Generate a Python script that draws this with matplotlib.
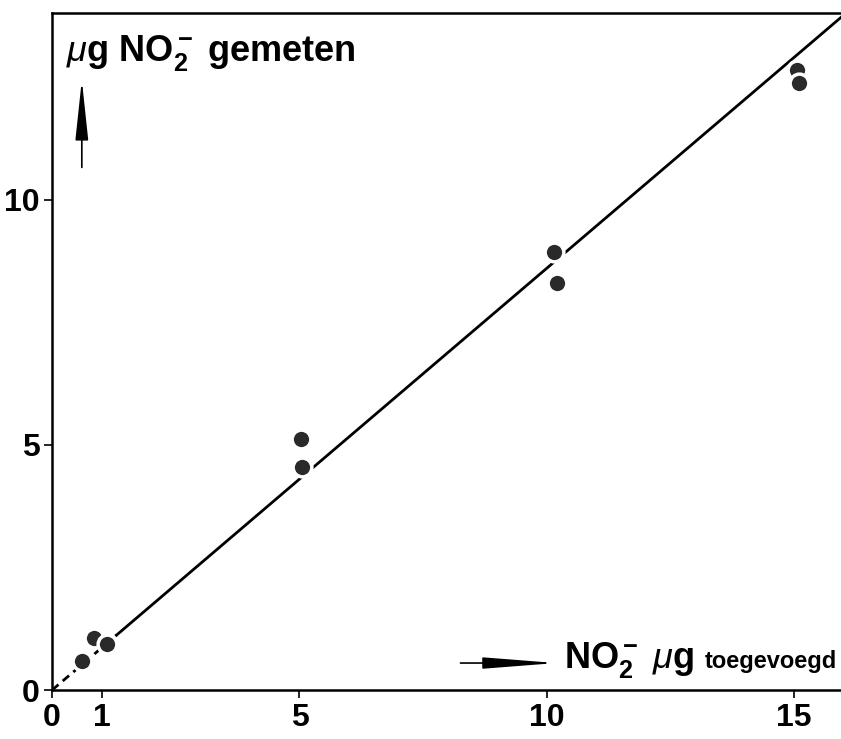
import matplotlib.pyplot as plt
import numpy as np

plt.rcParams['font.family'] = ['Liberation Sans', 'DejaVu Sans']
plt.rcParams['mathtext.fontset'] = 'custom'
plt.rcParams['mathtext.rm'] = 'Liberation Sans:bold'
plt.rcParams['mathtext.it'] = 'Liberation Sans:italic'
plt.rcParams['mathtext.bf'] = 'Liberation Sans:bold'

f_s = 23

# toegevoegd (x) vs gemeten (y), ug NO2-
added = [0.6, 0.85, 1.1, 5.03, 5.05, 10.15, 10.2, 15.07, 15.1]
measured = [0.6, 1.06, 0.94, 5.12, 4.55, 8.94, 8.29, 12.65, 12.37]
slope = 0.86

xticks = [0, 1, 5, 10, 15]
yticks = [0, 5, 10]

fig = plt.figure(figsize=(8.41, 7.39), dpi=100)
ax = fig.add_axes([0.062, 0.0663, 0.938, 0.9157])

xd = np.array([0, 1.3])
xs = np.array([1.3, 16])
ax.plot(xd, slope * xd, color='black', lw=2, ls=(0, (3, 2)))
ax.plot(xs, slope * xs, color='black', lw=2)
ax.plot(added, measured, 'o', color='#2a2a2a', markersize=13.5,
        markeredgecolor='white', markeredgewidth=2.5, zorder=3)

ax.set_xlim(0, 15.95)
ax.set_ylim(0, 13.8)
ax.set_xticks(xticks)
ax.set_yticks(yticks)
ax.tick_params(direction='out', length=6, width=1.2, labelsize=f_s, pad=3)
for lab in ax.get_xticklabels() + ax.get_yticklabels():
    lab.set_fontweight('bold')
ax.spines['right'].set_visible(False)
for s in ['left', 'bottom', 'top']:
    ax.spines[s].set_linewidth(1.8)

ax.text(0.28, 13.0, r'$\mathit{\mu}$g NO$_2^-$ gemeten', fontsize=26,
        fontweight='bold', va='center', ha='left')
ax.annotate('', xy=(0.6, 12.5), xytext=(0.6, 10.6),
            arrowprops=dict(arrowstyle='-|>,head_length=1.5,head_width=0.16',
                            lw=1.2, color='black', mutation_scale=25))

ax.annotate('', xy=(10.25, 0.55), xytext=(8.2, 0.55),
            arrowprops=dict(arrowstyle='-|>,head_length=1.8,head_width=0.14',
                            lw=1.2, color='black', mutation_scale=25))
ax.text(10.35, 0.62, r'NO$_2^-$ $\mathit{\mu}$g', fontsize=26,
        fontweight='bold', va='center', ha='left')
ax.text(13.2, 0.58, 'toegevoegd', fontsize=17, fontweight='bold',
        va='center', ha='left')

plt.savefig('out.png', dpi=100)
